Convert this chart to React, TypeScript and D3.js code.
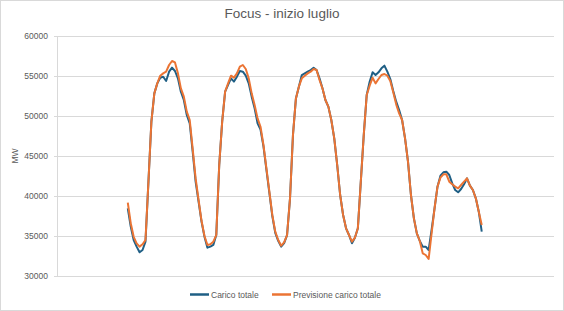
import React from "react";
import * as d3 from "d3";

const title = "Focus - inizio luglio";
const yAxisLabel = "MW";
const seriesNames = ["Carico totale", "Previsione carico totale"];
const yTicks = [30000, 35000, 40000, 45000, 50000, 55000, 60000];

// hourly values, hour 0 .. 120
const caricoTotale = [
  38460, 36170, 34500, 33670, 32960, 33250, 34300, 41790, 49290, 52830,
  54080, 54790, 54900, 54375, 55540, 56040, 55625, 54700, 53040, 52000,
  50125, 49080, 45540, 41790, 39290, 36790, 34920, 33540, 33670, 33880,
  35120, 43875, 49290, 53040, 53900, 54700, 54300, 54920, 55625, 55540,
  55040, 54080, 52420, 50960, 49080, 48300, 46200, 43300, 40400, 37500,
  35400, 34400, 33670, 34100, 35120, 39710, 47625, 52200, 53670, 55120,
  55330, 55540, 55750, 56040, 55750, 54700, 53460, 52000, 51170, 49500,
  47210, 43875, 40125, 37625, 35960, 35125, 34100, 34790, 35960, 41790,
  47625, 52625, 54290, 55460, 55125, 55460, 55960, 56290, 55540, 54625,
  53125, 51790, 50750, 49500, 47210, 44290, 40125, 37210, 35330, 34375,
  33670, 33670, 33250, 35750, 38460, 41170, 42540, 42960, 43040, 42625,
  41580, 40750, 40460, 40870, 41460, 42210, 41290, 40750, 39710, 38040,
  35540,
];

const previsioneCarico = [
  39160, 36600, 34900, 34080, 33670, 33960, 34500, 41790, 49290, 52830,
  54080, 55040, 55330, 55540, 56375, 56875, 56700, 55330, 53460, 52420,
  50540, 49500, 45900, 42200, 39500, 36900, 35000, 33880, 33960, 34290,
  35120, 43875, 49290, 53040, 54080, 55040, 54790, 55330, 56170, 56375,
  55875, 54710, 52830, 51375, 49700, 48660, 46375, 43460, 40540, 37625,
  35540, 34500, 33790, 34210, 35120, 39710, 47625, 52200, 53670, 54710,
  55040, 55330, 55540, 55875, 55750, 54500, 53460, 52000, 51170, 49500,
  47210, 43875, 40125, 37625, 35960, 35125, 34290, 34790, 35960, 41790,
  47625, 52625, 53790, 54790, 54080, 54625, 55125, 55250, 55040, 54375,
  52960, 51460, 50330, 49500, 47210, 44290, 40125, 37210, 35330, 34375,
  32830, 32625, 32125, 35330, 38460, 41170, 42290, 42710, 42710, 41790,
  41460, 41170, 40960, 41375, 41790, 42210, 41290, 40750, 39710, 38040,
  36375,
];

const W = 564;
const H = 311;
const plot = { left: 57, right: 554, top: 36, bottom: 276 };
const colors = ["#1F5F85", "#EB7434"];
const textColor = "#595959";
const gridColor = "#D9D9D9";
const font = "'Liberation Sans', Arial, sans-serif";

export default function App() {
  const x = d3.scaleLinear().domain([-24, 144.5]).range([plot.left, plot.right]);
  const y = d3.scaleLinear().domain([30000, 60000]).range([plot.bottom, plot.top]);
  const line = d3
    .line<number>()
    .x((_, i) => x(i))
    .y((d) => y(d))
    .curve(d3.curveLinear);
  const series = [caricoTotale, previsioneCarico];

  return (
    <svg
      width={W}
      height={H}
      style={{ position: "absolute", left: 0, top: 0, display: "block" }}
    >
      <rect x={0} y={0} width={W} height={H} fill="#ffffff" />
      <rect x={0.5} y={0.5} width={W - 1} height={H - 1} fill="none" stroke={gridColor} />
      <text
        x={W / 2}
        y={18}
        textAnchor="middle"
        fontFamily={font}
        fontSize={13.5}
        fill={textColor}
      >
        {title}
      </text>
      {yTicks.map((t) => (
        <g key={t}>
          <line
            x1={plot.left - 3}
            x2={plot.right}
            y1={Math.round(y(t)) + 0.5}
            y2={Math.round(y(t)) + 0.5}
            stroke={gridColor}
            strokeWidth={1}
          />
          <text
            x={48}
            y={y(t) + 3}
            textAnchor="end"
            fontFamily={font}
            fontSize={8.5}
            fill={textColor}
          >
            {t}
          </text>
        </g>
      ))}
      <line
        x1={plot.left + 0.5}
        x2={plot.left + 0.5}
        y1={plot.top}
        y2={plot.bottom}
        stroke={gridColor}
      />
      <text
        transform={`translate(18, ${(plot.top + plot.bottom) / 2}) rotate(-90)`}
        textAnchor="middle"
        fontFamily={font}
        fontSize={8.5}
        fill={textColor}
      >
        {yAxisLabel}
      </text>
      {series.map((s, i) => (
        <path
          key={i}
          d={line(s) || ""}
          fill="none"
          stroke={colors[i]}
          strokeWidth={2}
          strokeLinejoin="round"
        />
      ))}
      {/* legend */}
      <line x1={190} x2={209} y1={294.5} y2={294.5} stroke={colors[0]} strokeWidth={2.5} />
      <text x={211} y={297.5} fontFamily={font} fontSize={8.5} fill={textColor}>
        {seriesNames[0]}
      </text>
      <line x1={272} x2={291} y1={294.5} y2={294.5} stroke={colors[1]} strokeWidth={2.5} />
      <text x={293} y={297.5} fontFamily={font} fontSize={8.5} fill={textColor}>
        {seriesNames[1]}
      </text>
    </svg>
  );
}
